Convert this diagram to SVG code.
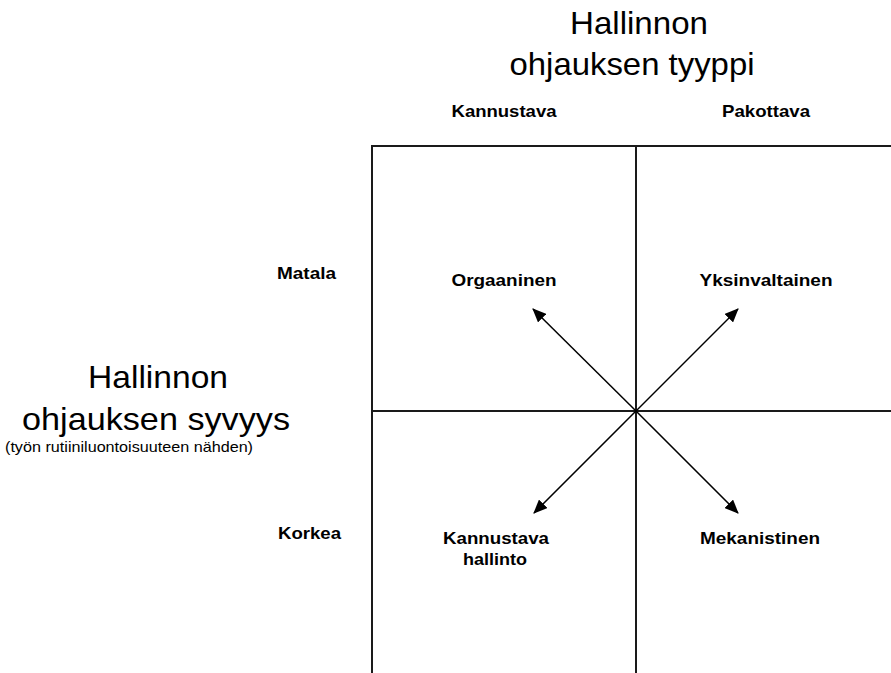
<svg xmlns="http://www.w3.org/2000/svg" width="891" height="673" viewBox="0 0 891 673">
  <style>
    .title { font-family: "Liberation Sans", Arial, sans-serif; font-size: 32px; fill: #000; }
    .sub { font-family: "Liberation Sans", Arial, sans-serif; font-size: 15px; fill: #000; }
    .lbl { font-family: "Liberation Sans", Arial, sans-serif; font-size: 17px; font-weight: bold; fill: #000; }
    .grid { stroke: #1a1a1a; stroke-width: 2; fill: none; }
    .arrow { stroke: #000; stroke-width: 1.5; fill: none; marker-end: url(#head); }
  </style>
  <defs>
    <marker id="head" markerUnits="userSpaceOnUse" markerWidth="14" markerHeight="12" refX="13" refY="6" orient="auto">
      <path d="M0,0 L14,6 L0,12 Z" fill="#000"/>
    </marker>
  </defs>
  <rect width="891" height="673" fill="#fff"/>

  <!-- axis titles -->
  <g id="title-top">
    <text class="title" x="639" y="34" text-anchor="middle" textLength="138" lengthAdjust="spacingAndGlyphs">Hallinnon</text>
    <text class="title" x="632" y="75" text-anchor="middle" textLength="245" lengthAdjust="spacingAndGlyphs">ohjauksen tyyppi</text>
  </g>
  <g id="title-left">
    <text class="title" x="158" y="388" text-anchor="middle" textLength="140" lengthAdjust="spacingAndGlyphs">Hallinnon</text>
    <text class="title" x="156" y="430" text-anchor="middle" textLength="268" lengthAdjust="spacingAndGlyphs">ohjauksen syvyys</text>
    <text class="sub" x="129" y="452" text-anchor="middle" textLength="248" lengthAdjust="spacingAndGlyphs">(työn rutiiniluontoisuuteen nähden)</text>
  </g>

  <!-- column and row headings -->
  <g id="col-kannustava"><text class="lbl" x="504" y="117" text-anchor="middle" textLength="105" lengthAdjust="spacingAndGlyphs">Kannustava</text></g>
  <g id="col-pakottava"><text class="lbl" x="766" y="117" text-anchor="middle" textLength="88" lengthAdjust="spacingAndGlyphs">Pakottava</text></g>
  <g id="row-matala"><text class="lbl" x="277" y="279" textLength="59" lengthAdjust="spacingAndGlyphs">Matala</text></g>
  <g id="row-korkea"><text class="lbl" x="278" y="539" textLength="63" lengthAdjust="spacingAndGlyphs">Korkea</text></g>

  <!-- quadrant grid -->
  <g id="grid">
    <path class="grid" d="M372,673 V146 H891"/>
    <line class="grid" x1="636" y1="146" x2="636" y2="673"/>
    <line class="grid" x1="372" y1="411" x2="891" y2="411"/>
  </g>

  <!-- quadrant labels -->
  <g id="q-orgaaninen"><text class="lbl" x="504" y="286" text-anchor="middle" textLength="105" lengthAdjust="spacingAndGlyphs">Orgaaninen</text></g>
  <g id="q-yksinvaltainen"><text class="lbl" x="766" y="286" text-anchor="middle" textLength="133" lengthAdjust="spacingAndGlyphs">Yksinvaltainen</text></g>
  <g id="q-kannustava-hallinto">
    <text class="lbl" x="496" y="544" text-anchor="middle" textLength="106" lengthAdjust="spacingAndGlyphs">Kannustava</text>
    <text class="lbl" x="495" y="565" text-anchor="middle" textLength="64" lengthAdjust="spacingAndGlyphs">hallinto</text>
  </g>
  <g id="q-mekanistinen"><text class="lbl" x="760" y="544" text-anchor="middle" textLength="120" lengthAdjust="spacingAndGlyphs">Mekanistinen</text></g>

  <!-- connectors radiating from the centre -->
  <g id="connectors">
    <line class="arrow" x1="636" y1="411" x2="533" y2="309"/>
    <line class="arrow" x1="636" y1="411" x2="738" y2="309"/>
    <line class="arrow" x1="636" y1="411" x2="534" y2="513"/>
    <line class="arrow" x1="636" y1="411" x2="738" y2="513"/>
  </g>
</svg>
